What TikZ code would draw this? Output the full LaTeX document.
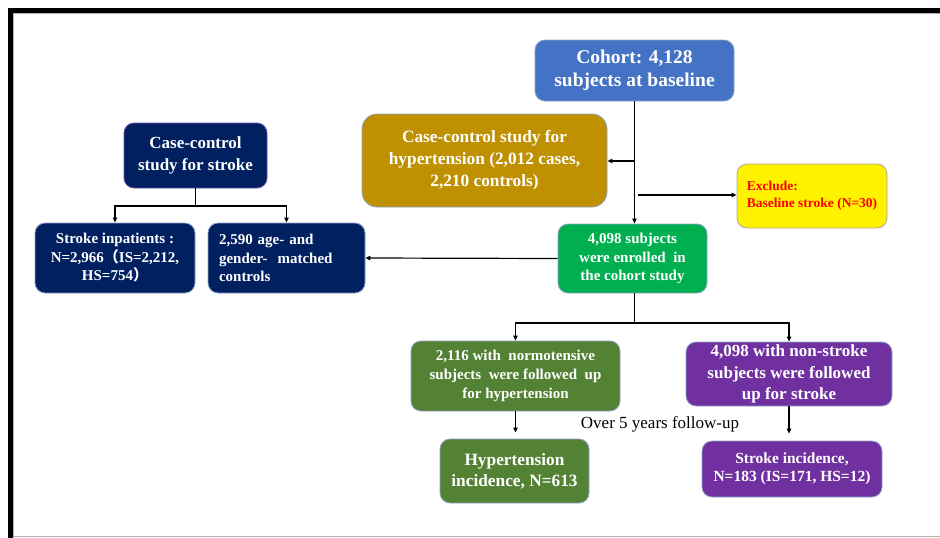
\documentclass[tikz,border=0pt]{standalone}
\usepackage{fontspec}
\setmainfont{Liberation Serif}
\newfontfamily\cjkparen{Noto Sans CJK SC}
\usetikzlibrary{arrows.meta}
\definecolor{cblue}{HTML}{4472C4}
\definecolor{cgold}{HTML}{BF9000}
\definecolor{cgreen}{HTML}{00B050}
\definecolor{cnavy}{HTML}{002060}
\definecolor{cdgreen}{HTML}{548235}
\definecolor{cpurple}{HTML}{7030A0}
\definecolor{cbord}{HTML}{8EA3C8}
\definecolor{cnavyb}{HTML}{6B4FA8}
\newcommand\myfs[2]{\fontsize{#1}{#2}\selectfont\bfseries}
\begin{document}
\begin{tikzpicture}[x=1pt,y=-1pt,
  box/.style={rectangle, rounded corners=10pt, line width=0.8pt, draw=cbord, text=white, align=center, inner sep=0pt},
  ln/.style={line width=1.2pt, black},
  arr/.style={ln, -{Triangle[length=5pt,width=4.5pt]}}]
\useasboundingbox (0,0) rectangle (940,538);
% frame
\fill[black] (8,8) rectangle (940,13);
\fill[black] (8,8) rectangle (13,538);
\draw[gray!60, line width=0.8pt] (13.4,13.4) -- (940,13.4);
\draw[gray!60, line width=0.8pt] (13.4,13.4) -- (13.4,538);
\draw[gray!60, line width=1.2pt] (13,536.8) -- (940,536.8);
% boxes
\node[box, fill=cblue, minimum width=199pt, minimum height=61pt, font=\myfs{19.5}{23}] (cohort) at (634.5,70.5) {Cohort: 4,128\\subjects at baseline};
\node[box, fill=cgold, rounded corners=15pt, minimum width=245pt, minimum height=93pt, font=\myfs{17.3}{22}] (htncc) at (484.5,160.5) {Case-control study for\\hypertension (2,012 cases,\\2,210 controls)};
\node[box, fill=yellow, draw=gray!70, text=red, align=left, minimum width=150pt, minimum height=64pt, font=\myfs{13.5}{16.5}] (excl) at (812,196) {Exclude:\\Baseline stroke (N=30)};
\node[box, fill=cgreen, minimum width=149pt, minimum height=69pt, font=\myfs{15}{18.5}] (enrol) at (632.5,258.5) {4,098 subjects\\were enrolled\ \ in\\the cohort study};
\node[box, fill=cnavy, draw=cnavyb, minimum width=143pt, minimum height=65pt, font=\myfs{17}{22}] (strokecc) at (195.5,155.5) {Case-control\\study for stroke};
\node[box, fill=cnavy, minimum width=160pt, minimum height=70pt, font=\myfs{15}{18.5}] (inpat) at (115,258) {Stroke inpatients :\\N=2,966{\cjkparen （}IS=2,212,\\HS=754{\cjkparen ）}};
\node[box, fill=cnavy, align=left, text width=135pt, inner xsep=11pt, minimum height=70pt, font=\myfs{15}{18.5}] (ctrl) at (286.5,258) {2,590 age- and\\gender-\ \ matched\\controls};
\node[box, fill=cdgreen, minimum width=209pt, minimum height=70pt, font=\myfs{15}{19}] (normo) at (515.5,376) {2,116 with\ \ normotensive\\subjects\ \ were followed\ \ up\\for hypertension};
\node[box, fill=cpurple, minimum width=206pt, minimum height=64pt, font=\myfs{17}{21.5}] (nonstroke) at (789,374) {4,098 with non-stroke\\subjects were followed\\up for stroke};
\node[box, fill=cdgreen, minimum width=149pt, minimum height=64pt, font=\myfs{17.3}{21}] (htninc) at (514.5,471) {Hypertension\\incidence, N=613};
\node[box, fill=cpurple, minimum width=180pt, minimum height=56pt, font=\myfs{15.5}{18}] (strinc) at (792,469) {Stroke incidence,\\N=183 (IS=171, HS=12)};
\node[font=\fontsize{17}{20}\selectfont, inner sep=0pt] (over) at (660,424) {Over 5 years follow-up};
% connectors
\coordinate (hy) at (0,161);
\coordinate (ex) at (638,195);
\coordinate (sby) at (0,206);
\coordinate (bry) at (0,323);
\draw[arr] (cohort.south) -- (cohort.south |- enrol.north);
\draw[arr] (cohort.south |- hy) -- (htncc.east |- hy);
\draw[arr] (ex) -- (excl.west |- ex);
\draw[arr] (enrol.west) -- (ctrl.east);
\draw[ln] (strokecc.south) -- (strokecc.south |- sby);
\draw[arr] (strokecc.south |- sby) -| (inpat.north);
\draw[arr] (strokecc.south |- sby) -| (ctrl.north);
\draw[ln] (cohort.south |- enrol.south) -- (cohort.south |- bry);
\draw[arr] (cohort.south |- bry) -| (normo.north);
\draw[arr] (cohort.south |- bry) -| (nonstroke.north);
\draw[arr, shorten >=6pt] (normo.south) -- (normo.south |- htninc.north);
\draw[arr, shorten >=7pt] (nonstroke.south) -- (nonstroke.south |- strinc.north);
\end{tikzpicture}
\end{document}
